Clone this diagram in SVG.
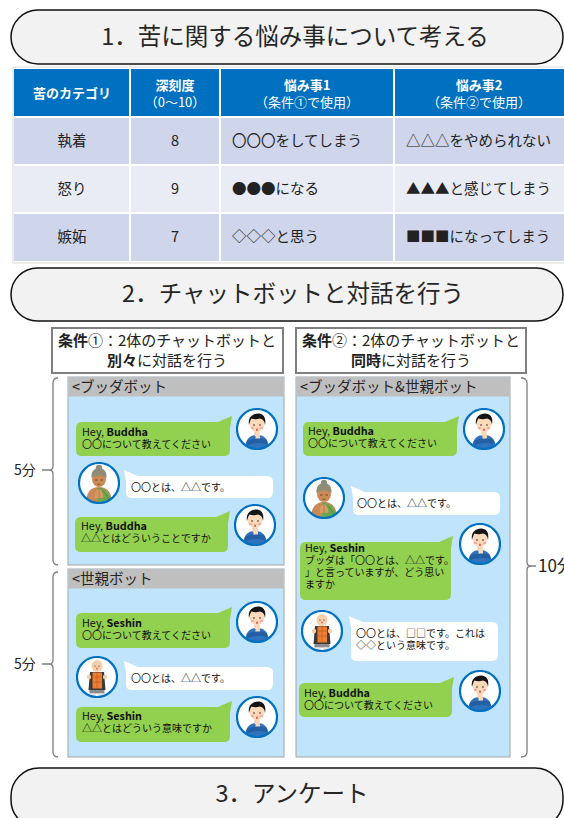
<svg xmlns="http://www.w3.org/2000/svg" xmlns:xlink="http://www.w3.org/1999/xlink" width="564" height="818" viewBox="0 0 564 818">
  <style>
    text { font-family: "Noto Sans CJK JP", "Noto Sans", sans-serif; }
    .pill { fill: #f2f2f2; stroke: #111; stroke-width: 1.5; }
    .h1 { font-size: 23.5px; fill: #262626; text-anchor: middle; }
    .th { font-size: 13px; fill: #fff; text-anchor: middle; }
    .thb { font-weight: bold; }
    .td { font-size: 14.5px; fill: #222; }
    .tdc { text-anchor: middle; }
    .cond { fill: #fff; stroke: #7f7f7f; stroke-width: 2; }
    .ct { font-size: 15px; fill: #222; }
    .panel { fill: #bfe4fb; stroke: #a6a6a6; stroke-width: 1; }
    .phead { fill: #bfbfbf; }
    .pt { font-size: 14.5px; fill: #262626; }
    .green { fill: #92d050; }
    .white { fill: #fff; }
    .bt { font-size: 10px; fill: #111; }
    .hey { font-size: 10.8px; }
    .brace { fill: none; stroke: #7f7f7f; stroke-width: 1.3; }
    .lbl { font-size: 14px; fill: #222; }
    .lbl-big { font-size: 17px; }
    .ring { fill: none; stroke: #0070c0; stroke-width: 2.2; }
  </style>
  <defs>
    <clipPath id="clipAv"><circle cx="0" cy="0" r="20"/></clipPath>
    <!-- young man, hand on chin -->
    <symbol id="man" viewBox="-21 -21 42 42">
      <circle r="20" fill="#fff"/>
      <g clip-path="url(#clipAv)">
        <path d="M-12 21 C-12 11 -8 6 0 6 C8 6 12 11 12 21 Z" fill="#2f73bd"/>
        <rect x="-2.5" y="2" width="5" height="5" fill="#f3c9a3"/>
        <ellipse cx="0" cy="-5" rx="7.3" ry="8.3" fill="#fbd9b9"/>
        <path d="M-8 -4 C-9.5 -12 -4 -15.5 1 -15.5 C6 -15.5 9.5 -12 8 -4 C7.5 -8 6 -10 3 -10.5 C0 -9.5 -3 -9.5 -5.5 -10.5 C-6.8 -8.5 -7.5 -6 -8 -4 Z" fill="#151515"/>
        <circle cx="-3" cy="-4" r="0.8" fill="#222"/>
        <circle cx="3" cy="-4" r="0.8" fill="#222"/>
        <ellipse cx="-4.6" cy="-1" rx="1.6" ry="1" fill="#f3a29c"/>
        <ellipse cx="4.6" cy="-1" rx="1.6" ry="1" fill="#f3a29c"/>
        <ellipse cx="0" cy="0.8" rx="0.9" ry="1.2" fill="#d9534f"/>
        <path d="M-1.5 4.5 C-1.5 2.5 2 2.5 2.8 4.5 L3 10 L-1.5 10 Z" fill="#fbd9b9"/>
        <path d="M-10 12 C-4 9 4 9 10 11 L10 15.5 C4 13.5 -4 13.5 -10 16.5 Z" fill="#255fa3"/>
      </g>
      <circle r="20" class="ring"/>
    </symbol>
    <!-- Buddha with green robe -->
    <symbol id="buddha" viewBox="-21 -21 42 42">
      <circle r="20" fill="#fff"/>
      <g clip-path="url(#clipAv)">
        <path d="M-13 21 C-13 9 -8 4 0 4 C8 4 13 9 13 21 Z" fill="#c98a55"/>
        <path d="M-2 5 C4 4 11 8 13 21 L-2 21 Z" fill="#6aa84f"/>
        <path d="M2 8 C6 9 9 13 10 18" fill="none" stroke="#4e8a37" stroke-width="0.8"/>
        <ellipse cx="0" cy="-4" rx="7" ry="8" fill="#c98a55"/>
        <path d="M-7.5 -5 C-8 -12.5 -4 -15 0 -15 C4 -15 8 -12.5 7.5 -5 C5 -8.5 -5 -8.5 -7.5 -5 Z" fill="#8e8c78"/>
        <circle cx="0" cy="-15" r="3.2" fill="#8e8c78"/>
        <path d="M-4 -3 h2.5 M1.5 -3 h2.5" stroke="#5a3a20" stroke-width="0.8"/>
        <path d="M-1.5 1 q1.5 1 3 0" fill="none" stroke="#5a3a20" stroke-width="0.7"/>
        <path d="M-4 15 C-5 10 -2 6 0 6 C2 6 5 10 4 15 Z" fill="#d89a63"/>
        <path d="M0 6 V15" stroke="#9a6438" stroke-width="0.6"/>
      </g>
      <circle r="20" class="ring"/>
    </symbol>
    <!-- Seshin, monk in orange kesa -->
    <symbol id="monk" viewBox="-21 -21 42 42">
      <circle r="20" fill="#fff"/>
      <g clip-path="url(#clipAv)">
        <path d="M-7 -5 H7 L8.5 13 H-8.5 Z" fill="#3a3a3a"/>
        <rect x="-4.5" y="-4.5" width="9.5" height="16" fill="#ee7d31"/>
        <path d="M-4.5 0 h9.5 M-4.5 5 h9.5 M0 -4.5 v16" stroke="#b85a1a" stroke-width="0.6"/>
        <rect x="-7.5" y="13" width="15" height="3.5" fill="#8c8c8c"/>
        <rect x="-6" y="16.5" width="4.5" height="2.5" fill="#e6e6e6"/>
        <rect x="1.5" y="16.5" width="4.5" height="2.5" fill="#e6e6e6"/>
        <circle cx="-8" cy="0" r="2.2" fill="#f6cfa8"/>
        <circle cx="8" cy="0" r="2.2" fill="#f6cfa8"/>
        <ellipse cx="0" cy="-11" rx="5.5" ry="6" fill="#f6cfa8"/>
        <circle cx="-2" cy="-11" r="0.6" fill="#222"/>
        <circle cx="2" cy="-11" r="0.6" fill="#222"/>
        <ellipse cx="0" cy="-8.5" rx="0.7" ry="0.9" fill="#d9534f"/>
      </g>
      <circle r="20" class="ring"/>
    </symbol>
  </defs>

  <!-- Step 1 heading -->
  <g id="step1">
    <rect class="pill" x="11" y="10" width="552" height="54" rx="27"/>
    <text class="h1" x="295" y="45">1．苦に関する悩み事について考える</text>
  </g>

  <!-- Worry table -->
  <g id="worry-table">
    <rect x="13" y="67" width="552" height="196" fill="#fff" stroke="#d9d9d9" stroke-width="1"/>
    <g fill="#0070c0">
      <rect x="14" y="69" width="115" height="47"/>
      <rect x="131" y="69" width="88" height="47"/>
      <rect x="221" y="69" width="172" height="47"/>
      <rect x="395" y="69" width="169" height="47"/>
    </g>
    <g fill="#cfd5ea">
      <rect x="14" y="118" width="115" height="46"/>
      <rect x="131" y="118" width="88" height="46"/>
      <rect x="221" y="118" width="172" height="46"/>
      <rect x="395" y="118" width="169" height="46"/>
      <rect x="14" y="214" width="115" height="47"/>
      <rect x="131" y="214" width="88" height="47"/>
      <rect x="221" y="214" width="172" height="47"/>
      <rect x="395" y="214" width="169" height="47"/>
    </g>
    <g fill="#e9ebf5">
      <rect x="14" y="166" width="115" height="46"/>
      <rect x="131" y="166" width="88" height="46"/>
      <rect x="221" y="166" width="172" height="46"/>
      <rect x="395" y="166" width="169" height="46"/>
    </g>
    <text class="th thb" x="72" y="98">苦のカテゴリ</text>
    <text class="th thb" x="175" y="90">深刻度</text>
    <text class="th" x="175" y="107">（0〜10）</text>
    <text class="th thb" x="307" y="90">悩み事1</text>
    <text class="th" x="307" y="107">（条件①で使用）</text>
    <text class="th thb" x="479" y="90">悩み事2</text>
    <text class="th" x="479" y="107">（条件②で使用）</text>

    <text class="td tdc" x="72" y="146">執着</text>
    <text class="td tdc" x="175" y="146">8</text>
    <text class="td" x="232" y="146">〇〇〇をしてしまう</text>
    <text class="td" x="406" y="146">△△△をやめられない</text>

    <text class="td tdc" x="72" y="194">怒り</text>
    <text class="td tdc" x="175" y="194">9</text>
    <text class="td" x="232" y="194">●●●になる</text>
    <text class="td" x="406" y="194">▲▲▲と感じてしまう</text>

    <text class="td tdc" x="72" y="242">嫉妬</text>
    <text class="td tdc" x="175" y="242">7</text>
    <text class="td" x="232" y="242">◇◇◇と思う</text>
    <text class="td" x="406" y="242">■■■になってしまう</text>
  </g>

  <!-- Step 2 heading -->
  <g id="step2">
    <rect class="pill" x="11" y="268" width="552" height="53" rx="26.5"/>
    <text class="h1" x="293" y="302">2．チャットボットと対話を行う</text>
  </g>

  <!-- Condition boxes -->
  <g id="cond1">
    <rect class="cond" x="52" y="328" width="231" height="45"/>
    <text class="ct" x="167" y="346" text-anchor="middle"><tspan font-weight="bold">条件</tspan>①：2体のチャットボットと</text>
    <text class="ct" x="167" y="366" text-anchor="middle"><tspan font-weight="bold">別々</tspan>に対話を行う</text>
  </g>
  <g id="cond2">
    <rect class="cond" x="296" y="328" width="230" height="45"/>
    <text class="ct" x="411" y="346" text-anchor="middle"><tspan font-weight="bold">条件</tspan>②：2体のチャットボットと</text>
    <text class="ct" x="411" y="366" text-anchor="middle"><tspan font-weight="bold">同時</tspan>に対話を行う</text>
  </g>

  <!-- Chat: Buddha bot alone -->
  <g id="chat-buddha">
    <rect class="panel" x="68" y="377" width="216" height="188"/>
    <rect class="phead" x="68.5" y="377.5" width="215" height="19"/>
    <text class="pt" x="72" y="392">&lt;ブッダボット</text>

    <path class="green" d="M82,422 H218 L232,416 L230,428 V450 Q230,456 224,456 H82 Q76,456 76,450 V428 Q76,422 82,422 Z"/>
    <text class="bt hey" x="82" y="436">Hey, <tspan font-weight="bold">Buddha</tspan></text>
    <text class="bt" x="82" y="448">〇〇について教えてください</text>
    <use xlink:href="#man" href="#man" x="236" y="408" width="42" height="42"/>

    <use xlink:href="#buddha" href="#buddha" x="78" y="462" width="42" height="42"/>
    <path class="white" d="M138,476 H267 Q273,476 273,482 V492 Q273,498 267,498 H132 Q126,498 126,492 V482 L124,470 Z"/>
    <text class="bt" x="131" y="491">〇〇とは、△△です。</text>

    <path class="green" d="M81,517 H216 L230,511 L228,523 V546 Q228,552 222,552 H81 Q75,552 75,546 V523 Q75,517 81,517 Z"/>
    <text class="bt hey" x="81" y="530">Hey, <tspan font-weight="bold">Buddha</tspan></text>
    <text class="bt" x="81" y="542">△△とはどういうことですか</text>
    <use xlink:href="#man" href="#man" x="234" y="504" width="42" height="42"/>
  </g>

  <!-- Chat: Seshin bot alone -->
  <g id="chat-seshin">
    <rect class="panel" x="68" y="569" width="216" height="188"/>
    <rect class="phead" x="68.5" y="569.5" width="215" height="19"/>
    <text class="pt" x="72" y="584">&lt;世親ボット</text>

    <path class="green" d="M82,613 H218 L232,607 L230,619 V642 Q230,648 224,648 H82 Q76,648 76,642 V619 Q76,613 82,613 Z"/>
    <text class="bt hey" x="82" y="627">Hey, <tspan font-weight="bold">Seshin</tspan></text>
    <text class="bt" x="82" y="639">〇〇について教えてください</text>
    <use xlink:href="#man" href="#man" x="236" y="601" width="42" height="42"/>

    <use xlink:href="#monk" href="#monk" x="76" y="656" width="42" height="42"/>
    <path class="white" d="M138,667 H267 Q273,667 273,673 V684 Q273,690 267,690 H132 Q126,690 126,684 V673 L124,661 Z"/>
    <text class="bt" x="131" y="682">〇〇とは、△△です。</text>

    <path class="green" d="M82,707 H218 L232,701 L230,713 V736 Q230,742 224,742 H82 Q76,742 76,736 V713 Q76,707 82,707 Z"/>
    <text class="bt hey" x="82" y="720">Hey, <tspan font-weight="bold">Seshin</tspan></text>
    <text class="bt" x="82" y="732">△△とはどういう意味ですか</text>
    <use xlink:href="#man" href="#man" x="236" y="696" width="42" height="42"/>
  </g>

  <!-- Chat: both bots together -->
  <g id="chat-both">
    <rect class="panel" x="296" y="377" width="214" height="380"/>
    <rect class="phead" x="296.5" y="377.5" width="213" height="19"/>
    <text class="pt" x="300" y="392">&lt;ブッダボット&amp;世親ボット</text>

    <path class="green" d="M309,422 H445 L459,416 L457,428 V450 Q457,456 451,456 H309 Q303,456 303,450 V428 Q303,422 309,422 Z"/>
    <text class="bt hey" x="308" y="435">Hey, <tspan font-weight="bold">Buddha</tspan></text>
    <text class="bt" x="308" y="447">〇〇について教えてください</text>
    <use xlink:href="#man" href="#man" x="463" y="408" width="42" height="42"/>

    <use xlink:href="#buddha" href="#buddha" x="303" y="477" width="42" height="42"/>
    <path class="white" d="M365,492 H494 Q500,492 500,498 V509 Q500,515 494,515 H359 Q353,515 353,509 V498 L351,486 Z"/>
    <text class="bt" x="357" y="507">〇〇とは、△△です。</text>

    <path class="green" d="M306,542 H439 L453,536 L451,548 V594 Q451,600 445,600 H306 Q300,600 300,594 V548 Q300,542 306,542 Z"/>
    <text class="bt hey" x="305" y="552">Hey, <tspan font-weight="bold">Seshin</tspan></text>
    <text class="bt" x="305" y="564">ブッダは「〇〇とは、△△です。</text>
    <text class="bt" x="305" y="576">」と言っていますが、どう思い</text>
    <text class="bt" x="305" y="588">ますか</text>
    <use xlink:href="#man" href="#man" x="459" y="523" width="42" height="42"/>

    <use xlink:href="#monk" href="#monk" x="301" y="610" width="42" height="42"/>
    <path class="white" d="M363,622 H492 Q498,622 498,628 V655 Q498,661 492,661 H357 Q351,661 351,655 V628 L349,616 Z"/>
    <text class="bt" x="356" y="637">〇〇とは、□□です。これは</text>
    <text class="bt" x="356" y="649">◇◇という意味です。</text>

    <path class="green" d="M305,683 H440 L454,677 L452,689 V711 Q452,717 446,717 H305 Q299,717 299,711 V689 Q299,683 305,683 Z"/>
    <text class="bt hey" x="304" y="697">Hey, <tspan font-weight="bold">Buddha</tspan></text>
    <text class="bt" x="304" y="709">〇〇について教えてください</text>
    <use xlink:href="#man" href="#man" x="459" y="670" width="42" height="42"/>
  </g>

  <!-- Time braces -->
  <g id="time-braces">
    <path class="brace" d="M58,378 Q53,378 53,383 V466 Q53,470 49,470 H42 M49,470 Q53,470 53,474 V560 Q53,565 58,565"/>
    <text class="lbl" x="14" y="475">5分</text>
    <path class="brace" d="M58,572 Q53,572 53,577 V660 Q53,664 49,664 H42 M49,664 Q53,664 53,668 V752 Q53,757 58,757"/>
    <text class="lbl" x="14" y="669">5分</text>
    <path class="brace" d="M521,378 Q527,378 527,383 V562 Q527,566 531,566 H536 M531,566 Q527,566 527,570 V752 Q527,757 521,757"/>
    <text class="lbl lbl-big" x="538" y="572">10分</text>
  </g>

  <!-- Step 3 heading -->
  <g id="step3">
    <rect class="pill" x="11" y="768" width="552" height="60" rx="28"/>
    <text class="h1" x="292" y="802">3．アンケート</text>
  </g>
</svg>
